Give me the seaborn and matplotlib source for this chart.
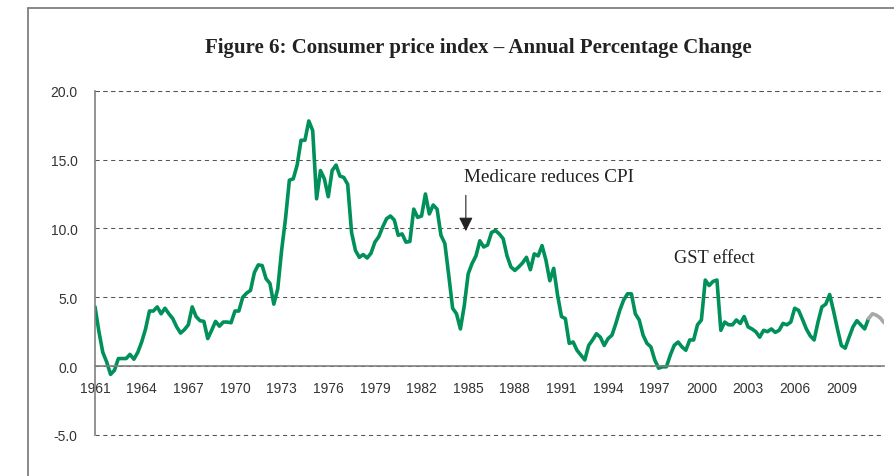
import matplotlib
matplotlib.use('Agg')
import matplotlib.pyplot as plt
from matplotlib.lines import Line2D
from matplotlib.ticker import FormatStrFormatter
import pandas as pd
import seaborn as sns

# quarterly CPI, annual % change (1961Q1 ...)
cpi_1961_1970 = [4.3, 2.5, 1.0, 0.3, -0.6, -0.3, 0.55, 0.55, 0.55, 0.85,
                 0.5, 1.0, 1.75, 2.7, 4.0, 4.0, 4.3, 3.8, 4.2, 3.8,
                 3.45, 2.85, 2.4, 2.65, 3.0, 4.3, 3.6, 3.3, 3.25, 2.0,
                 2.6, 3.25, 2.9, 3.2, 3.2, 3.15, 4.0, 4.0, 5.0, 5.3]
cpi_1971_1980 = [5.5, 6.8, 7.35, 7.3, 6.35, 6.0, 4.5, 5.6, 8.4, 10.7,
                 13.5, 13.6, 14.6, 16.4, 16.4, 17.8, 17.1, 12.15, 14.2, 13.6,
                 12.3, 14.2, 14.6, 13.8, 13.7, 13.2, 9.7, 8.4, 7.9, 8.1,
                 7.85, 8.2, 9.0, 9.4, 10.1, 10.7, 10.9, 10.6, 9.5, 9.6]
cpi_1981_1990 = [9.0, 9.05, 11.4, 10.8, 10.9, 12.5, 11.05, 11.7, 11.4, 9.5,
                 8.9, 6.6, 4.2, 3.8, 2.7, 4.4, 6.7, 7.45, 8.0, 9.1,
                 8.65, 8.8, 9.7, 9.85, 9.6, 9.25, 8.0, 7.2, 6.95, 7.2,
                 7.5, 7.9, 7.0, 8.15, 8.0, 8.75, 7.7, 6.2, 7.1, 5.15]
cpi_1991_2000 = [3.6, 3.45, 1.65, 1.75, 1.15, 0.8, 0.45, 1.5, 1.9, 2.35,
                 2.1, 1.5, 2.0, 2.25, 3.1, 4.05, 4.8, 5.25, 5.25, 3.8,
                 3.35, 2.25, 1.65, 1.4, 0.45, -0.15, -0.05, -0.05, 0.8, 1.5,
                 1.75, 1.4, 1.15, 1.9, 1.9, 3.0, 3.35, 6.25, 5.85, 6.15]
cpi_2001_2011 = [6.25, 2.6, 3.2, 3.0, 3.0, 3.35, 3.1, 3.6, 2.85, 2.7,
                 2.5, 2.1, 2.6, 2.5, 2.7, 2.45, 2.6, 3.1, 3.0, 3.2,
                 4.2, 4.05, 3.4, 2.7, 2.2, 1.9, 3.2, 4.3, 4.5, 5.2,
                 4.0, 2.7, 1.5, 1.3, 2.1, 2.85, 3.3, 3.0, 2.7, 3.45,
                 3.8, 3.7, 3.5, 3.15]
n_green = 200  # the last few quarters are drawn in grey

year_labels = ['1961', '1964', '1967', '1970', '1973', '1976', '1979', '1982',
               '1985', '1988', '1991', '1994', '1997', '2000', '2003', '2006',
               '2009']

cpi = cpi_1961_1970 + cpi_1971_1980 + cpi_1981_1990 + cpi_1991_2000 + cpi_2001_2011
df = pd.DataFrame({'quarter': range(len(cpi)), 'cpi': cpi})

sns.set_style('white')
plt.rcParams['font.family'] = ['Liberation Sans', 'DejaVu Sans']

fig = plt.figure(figsize=(8.94, 4.77), dpi=100)
ax = fig.add_axes([0.1063, 0.086, 0.8826, 0.7218])

sns.lineplot(data=df.iloc[:n_green], x='quarter', y='cpi', color='#00905A', lw=2.6, ax=ax)
sns.lineplot(data=df.iloc[n_green - 1:], x='quarter', y='cpi', color='#A8A8A8', lw=2.6, ax=ax)

ax.set_xlim(0, len(cpi) - 1)
ax.set_ylim(-5, 20)
ax.set_xlabel('')
ax.set_ylabel('')

# gridlines
grid_kw = dict(ls=(0, (4, 3.5)), color='#555555', lw=0.75)
ax.set_yticks([-5, 0, 5, 10, 15, 20])
ax.yaxis.set_major_formatter(FormatStrFormatter('%.1f'))
ax.yaxis.grid(True, **grid_kw)
ax.axhline(-5, clip_on=False, zorder=0.5, **grid_kw)
ax.axhline(20, clip_on=False, zorder=0.5, **grid_kw)
ax.set_axisbelow(True)

# axes lines
for s in ['top', 'right']:
    ax.spines[s].set_visible(False)
ax.spines['bottom'].set_position(('data', 0))
ax.spines['bottom'].set_color('#808080')
ax.spines['bottom'].set_linewidth(1.2)
ax.spines['left'].set_color('#808080')
ax.spines['left'].set_linewidth(1.2)

ax.set_xticks(range(0, 12 * len(year_labels), 12))
ax.set_xticklabels(year_labels)
ax.set_xticks(range(6, len(cpi), 12), minor=True)
ax.tick_params(axis='x', which='both', direction='in', length=4, width=1,
               color='#808080', labelsize=10, labelcolor='#333333', pad=11)
ax.tick_params(axis='y', direction='out', length=3, width=1, color='#808080',
               labelsize=10, labelcolor='#333333', pad=9.5)

# annotations
ax.annotate('', xy=(95.4, 9.8), xytext=(95.4, 12.4),
            arrowprops=dict(arrowstyle='-|>,head_width=0.3,head_length=0.6',
                            color='#222222', lw=0.8, shrinkA=0, shrinkB=0,
                            mutation_scale=14))
ax.text(95.0, 13.8, 'Medicare reduces CPI', family=['Liberation Serif', 'DejaVu Serif'],
        fontsize=13.8, va='center', ha='left', color='#222222')
ax.text(149.0, 7.9, 'GST effect', family=['Liberation Serif', 'DejaVu Serif'],
        fontsize=13.2, va='center', ha='left', color='#222222')

fig.text(0.535, 0.899, 'Figure 6: Consumer price index \u2013 Annual Percentage Change',
         ha='center', va='center', family=['Liberation Serif', 'DejaVu Serif'],
         weight='bold', fontsize=15, color='#222222')

# frame around the figure
fx = 28 / 894
fy = 1 - 9 / 477
fig.add_artist(Line2D([fx, fx], [0, fy], transform=fig.transFigure, color='#7f7f7f', lw=1.3))
fig.add_artist(Line2D([fx, 1], [fy, fy], transform=fig.transFigure, color='#7f7f7f', lw=1.3))

fig.savefig('out.png', dpi=100)
